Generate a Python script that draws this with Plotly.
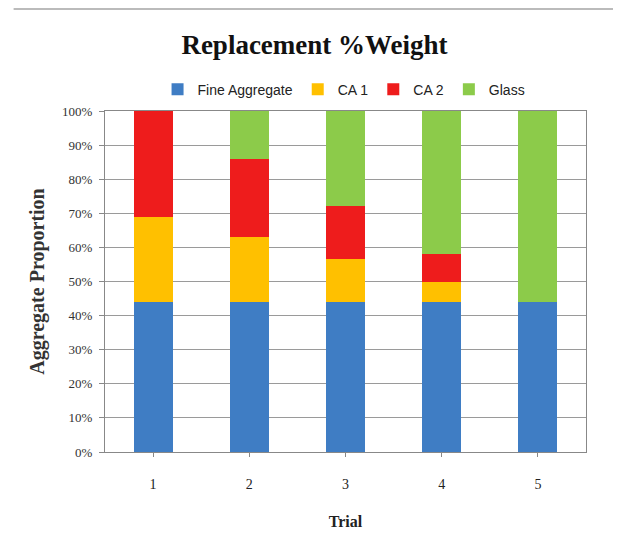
import plotly.graph_objects as go

trials = ["1", "2", "3", "4", "5"]
fine_aggregate = [44, 44, 44, 44, 44]
ca1 = [25, 19, 12.5, 6, 0]
ca2 = [31, 23, 15.5, 8, 0]
glass = [0, 14, 28, 42, 56]

series = [
    ("Fine Aggregate", fine_aggregate, "#3F7DC4"),
    ("CA 1", ca1, "#FFC000"),
    ("CA 2", ca2, "#EE1C1C"),
    ("Glass", glass, "#8CCB4A"),
]

fig = go.Figure()
for name, vals, color in series:
    fig.add_trace(go.Bar(x=trials, y=vals, name=name, marker_color=color,
                         marker_line_width=0, width=0.405))

fig.update_layout(
    barmode="stack",
    width=613, height=528,
    paper_bgcolor="white", plot_bgcolor="white",
    margin=dict(l=97, r=35, t=103, b=84, autoexpand=False),
    title=dict(text="<b>Replacement %Weight</b>", x=0.5, xanchor="center", y=0.93, yanchor="middle",
               font=dict(family="Liberation Serif", size=27, color="#111")),
    legend=dict(orientation="h", x=0.497, xanchor="center", y=1.016, yanchor="bottom",
                font=dict(family="Liberation Sans Narrow, Liberation Sans", size=14, color="#222"),
                itemwidth=30, traceorder="normal"),
    font=dict(family="Liberation Serif", color="#333"),
)
fig.update_yaxes(range=[0, 100], dtick=10, ticksuffix="%", showgrid=True, gridcolor="#9a9a9a",
                 gridwidth=1, showline=True, linecolor="#888", mirror=True, ticks="outside",
                 ticklen=5, tickcolor="#888", ticklabelstandoff=4, automargin=False,
                 tickfont=dict(family="Liberation Serif", size=13, color="#333"),
                 title=dict(text="<b>Aggregate Proportion</b>", standoff=12,
                            font=dict(family="Liberation Serif", size=20, color="#333")))
fig.update_xaxes(showline=True, linecolor="#888", mirror=True, ticks="outside", ticklen=4,
                 tickcolor="#888", ticklabelstandoff=15, automargin=False,
                 tickfont=dict(family="Liberation Serif", size=14, color="#222"),
                 title=dict(text="<b>Trial</b>", standoff=25,
                            font=dict(family="Liberation Serif", size=16, color="#222")))
fig.add_shape(type="line", xref="paper", yref="paper", x0=-0.19, x1=1.08, y0=1.299, y1=1.299,
              line=dict(color="#bbb", width=2))

fig.write_html("out.html")
